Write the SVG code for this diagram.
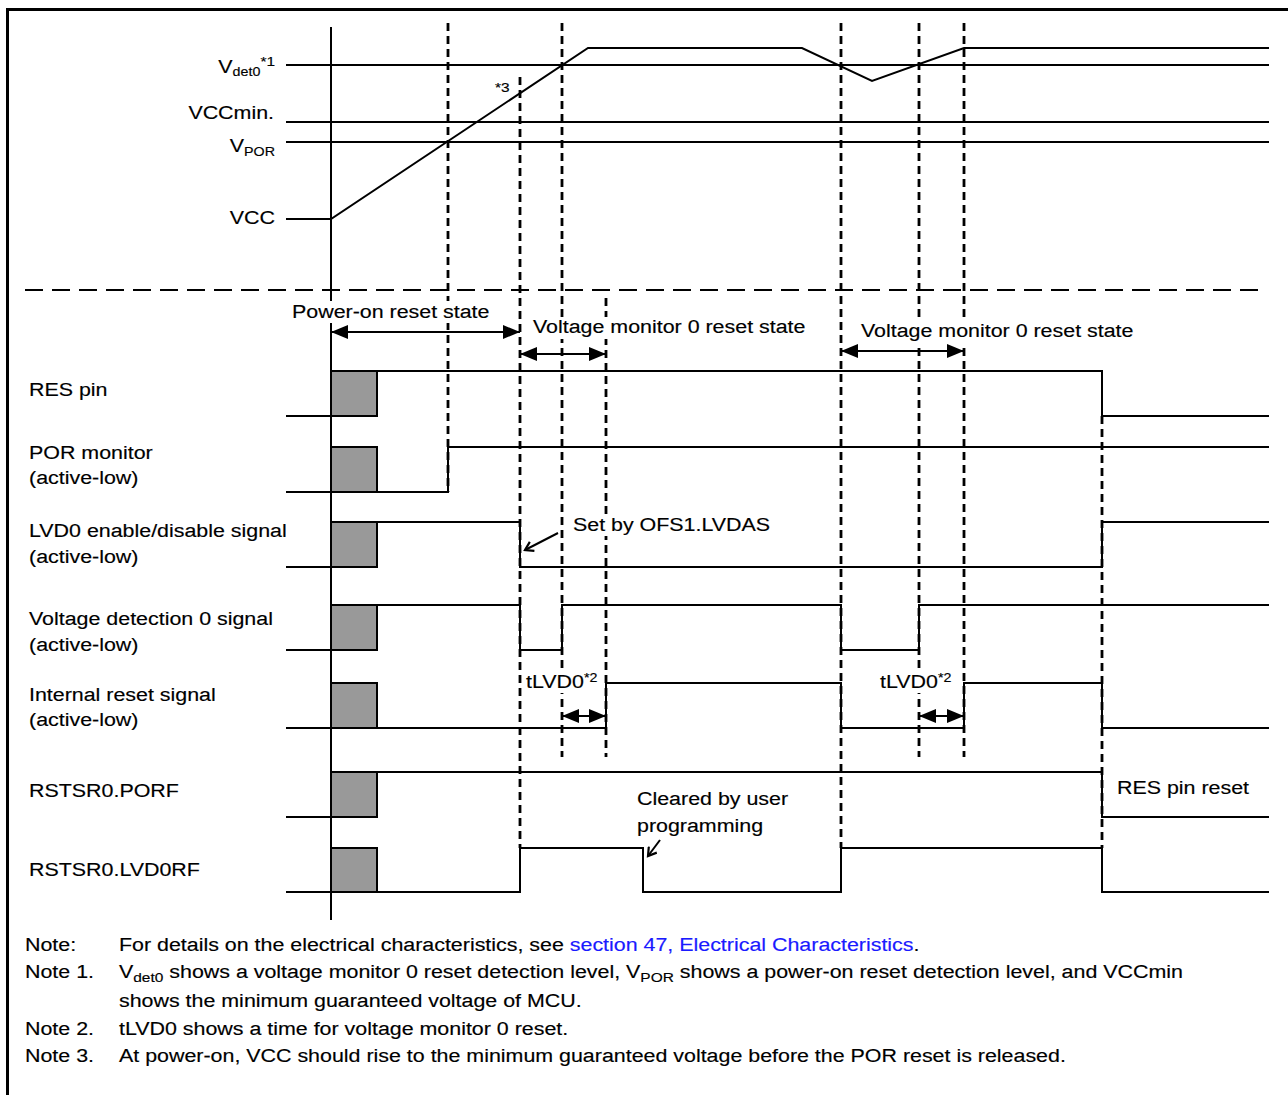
<svg xmlns="http://www.w3.org/2000/svg" width="1288" height="1095" viewBox="0 0 1288 1095">
<style>
.t{font-family:"Liberation Sans",Arial,sans-serif;font-size:18px;fill:#000;stroke:#000;stroke-width:0.15}
.s{font-size:12px}
.lvl{stroke:#000;stroke-width:2;fill:none}
.w{stroke:#000;stroke-width:2;fill:none;stroke-linejoin:miter}
.box{fill:#999;stroke:#000;stroke-width:2}
.dv{stroke:#000;stroke-width:2.8;stroke-dasharray:8 5;fill:none}
.arr{stroke:#000;stroke-width:2;fill:none;marker-start:url(#ah);marker-end:url(#ah)}
.call{stroke:#000;stroke-width:2;fill:none;marker-end:url(#oh)}
.link{fill:#1a1aff;stroke:#1a1aff}
.bg{fill:#fff}
</style>
<defs>
<marker id="ah" markerWidth="18" markerHeight="14" refX="17" refY="7" orient="auto-start-reverse" markerUnits="userSpaceOnUse">
<path d="M0,0 L17,7 L0,14 z" fill="#000"/>
</marker>
<marker id="oh" markerWidth="12" markerHeight="12" refX="9" refY="6" orient="auto" markerUnits="userSpaceOnUse">
<path d="M1,1 L9,6 L1,11" fill="none" stroke="#000" stroke-width="2.2"/>
</marker>
</defs>
<rect width="1288" height="1095" fill="#fff"/>
<g id="frame">
<path d="M7.5,1095 V9.5 H1288" fill="none" stroke="#000" stroke-width="3"/>
</g>

<g id="voltage-graph">
<line x1="331" y1="27" x2="331" y2="920" class="lvl"/>
<line x1="286" y1="65" x2="1269" y2="65" class="lvl"/>
<line x1="286" y1="122" x2="1269" y2="122" class="lvl"/>
<line x1="286" y1="142" x2="1269" y2="142" class="lvl"/>
<polyline points="286,219 331,219 588,48 802,48 872,81 964,48 1269,48" class="w"/>
<text class="t" text-anchor="end" transform="translate(275 73) scale(1.19 1)">V<tspan class="s" dy="3">det0</tspan><tspan style="font-size:13px" dy="-10">*1</tspan></text>
<text class="t" text-anchor="end" transform="translate(274 119) scale(1.19 1)">VCCmin.</text>
<text class="t" text-anchor="end" transform="translate(275 152) scale(1.19 1)">V<tspan class="s" dy="4">POR</tspan></text>
<text class="t" text-anchor="end" transform="translate(275 224) scale(1.19 1)">VCC</text>
<text class="t" style="font-size:13px" transform="translate(495 92) scale(1.19 1)">*3</text>
</g>

<g id="separator">
<line x1="25" y1="290" x2="1265" y2="290" stroke="#000" stroke-width="2" stroke-dasharray="18 9"/>
</g>

<g id="connectors">
<line x1="448" y1="23" x2="448" y2="492" class="dv"/>
<line x1="520" y1="77" x2="520" y2="848" class="dv"/>
<line x1="562" y1="23" x2="562" y2="757" class="dv"/>
<line x1="606" y1="298" x2="606" y2="757" class="dv"/>
<line x1="841" y1="23" x2="841" y2="848" class="dv"/>
<line x1="919" y1="23" x2="919" y2="757" class="dv"/>
<line x1="964" y1="23" x2="964" y2="757" class="dv"/>
<line x1="1102" y1="416" x2="1102" y2="848" class="dv"/>
<line x1="331" y1="332" x2="520" y2="332" class="arr"/>
<line x1="520" y1="354" x2="606" y2="354" class="arr"/>
<line x1="841" y1="351" x2="964" y2="351" class="arr"/>
<line x1="562" y1="716" x2="606" y2="716" class="arr"/>
<line x1="919" y1="716" x2="964" y2="716" class="arr"/>
<line x1="558" y1="533" x2="525" y2="550" class="call"/>
<line x1="660" y1="840" x2="648" y2="856" class="call"/>
</g>

<g id="res-pin">
<text class="t" transform="translate(29 396) scale(1.19 1)">RES pin</text>
<line x1="286" y1="416" x2="331" y2="416" class="w"/>
<rect x="331" y="371" width="46" height="45" class="box"/>
<polyline points="377,371 1102,371 1102,416 1269,416" class="w"/>
</g>

<g id="por-monitor">
<text class="t" transform="translate(29 459) scale(1.19 1)">POR monitor</text>
<text class="t" transform="translate(29 484) scale(1.19 1)">(active-low)</text>
<line x1="286" y1="492" x2="331" y2="492" class="w"/>
<rect x="331" y="447" width="46" height="45" class="box"/>
<polyline points="377,492 448,492 448,447 1269,447" class="w"/>
</g>

<g id="lvd0-enable">
<text class="t" transform="translate(29 537) scale(1.19 1)">LVD0 enable/disable signal</text>
<text class="t" transform="translate(29 563) scale(1.19 1)">(active-low)</text>
<line x1="286" y1="567" x2="331" y2="567" class="w"/>
<rect x="331" y="522" width="46" height="45" class="box"/>
<polyline points="377,522 520,522 520,567 1102,567 1102,522 1269,522" class="w"/>
<rect x="570" y="515" width="204" height="21" class="bg"/>
<text class="t" transform="translate(573 531) scale(1.19 1)">Set by OFS1.LVDAS</text>
</g>

<g id="voltage-detection-0">
<text class="t" transform="translate(29 625) scale(1.19 1)">Voltage detection 0 signal</text>
<text class="t" transform="translate(29 651) scale(1.19 1)">(active-low)</text>
<line x1="286" y1="650" x2="331" y2="650" class="w"/>
<rect x="331" y="605" width="46" height="45" class="box"/>
<polyline points="377,605 520,605 520,650 562,650 562,605 841,605 841,650 919,650 919,605 1269,605" class="w"/>
</g>

<g id="internal-reset">
<text class="t" transform="translate(29 701) scale(1.19 1)">Internal reset signal</text>
<text class="t" transform="translate(29 726) scale(1.19 1)">(active-low)</text>
<line x1="286" y1="728" x2="331" y2="728" class="w"/>
<rect x="331" y="683" width="46" height="45" class="box"/>
<polyline points="377,728 606,728 606,683 841,683 841,728 964,728 964,683 1102,683 1102,728 1269,728" class="w"/>
<rect x="524" y="670" width="79" height="23" class="bg"/>
<text class="t" transform="translate(526 688) scale(1.19 1)">tLVD0<tspan class="s" dy="-6">*2</tspan></text>
<rect x="878" y="670" width="80" height="23" class="bg"/>
<text class="t" transform="translate(880 688) scale(1.19 1)">tLVD0<tspan class="s" dy="-6">*2</tspan></text>
</g>

<g id="rstsr0-porf">
<text class="t" transform="translate(29 797) scale(1.19 1)">RSTSR0.PORF</text>
<line x1="286" y1="817" x2="331" y2="817" class="w"/>
<rect x="331" y="772" width="46" height="45" class="box"/>
<polyline points="377,772 1102,772 1102,817 1269,817" class="w"/>
<text class="t" transform="translate(1117 794) scale(1.19 1)">RES pin reset</text>
</g>

<g id="rstsr0-lvd0rf">
<text class="t" transform="translate(29 876) scale(1.19 1)">RSTSR0.LVD0RF</text>
<line x1="286" y1="892" x2="331" y2="892" class="w"/>
<rect x="331" y="848" width="46" height="44" class="box"/>
<polyline points="377,892 520,892 520,848 643,848 643,892 841,892 841,848 1102,848 1102,892 1269,892" class="w"/>
<text class="t" transform="translate(637 805) scale(1.19 1)">Cleared by user</text>
<text class="t" transform="translate(637 832) scale(1.19 1)">programming</text>
</g>

<g id="state-labels">
<rect x="290" y="301" width="202" height="22" class="bg"/>
<text class="t" transform="translate(292 318) scale(1.19 1)">Power-on reset state</text>
<rect x="531" y="317" width="277" height="22" class="bg"/>
<text class="t" transform="translate(533 333) scale(1.19 1)">Voltage monitor 0 reset state</text>
<rect x="859" y="321" width="277" height="22" class="bg"/>
<text class="t" transform="translate(861 337) scale(1.19 1)">Voltage monitor 0 reset state</text>
</g>

<g id="notes">
<text class="t" transform="translate(25 951) scale(1.19 1)">Note:</text>
<text class="t" transform="translate(119 951) scale(1.19 1)">For details on the electrical characteristics, see <tspan class="link">section 47, Electrical Characteristics</tspan>.</text>
<text class="t" transform="translate(25 978) scale(1.19 1)">Note 1.</text>
<text class="t" transform="translate(119 978) scale(1.19 1)">V<tspan style="font-size:13px" dy="4">det0</tspan><tspan dy="-4"> shows a voltage monitor 0 reset detection level, V</tspan><tspan style="font-size:13px" dy="4">POR</tspan><tspan dy="-4"> shows a power-on reset detection level, and VCCmin</tspan></text>
<text class="t" transform="translate(119 1007) scale(1.19 1)">shows the minimum guaranteed voltage of MCU.</text>
<text class="t" transform="translate(25 1035) scale(1.19 1)">Note 2.</text>
<text class="t" transform="translate(119 1035) scale(1.19 1)">tLVD0 shows a time for voltage monitor 0 reset.</text>
<text class="t" transform="translate(25 1062) scale(1.19 1)">Note 3.</text>
<text class="t" transform="translate(119 1062) scale(1.19 1)">At power-on, VCC should rise to the minimum guaranteed voltage before the POR reset is released.</text>
</g>
</svg>
